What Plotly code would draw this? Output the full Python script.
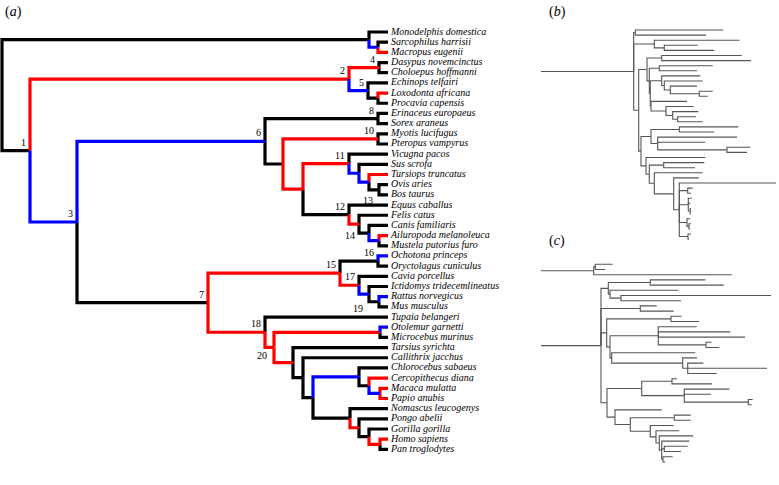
import plotly.graph_objects as go

# ---------------- data ----------------
LEAF_NAMES = [
    "Monodelphis domestica", "Sarcophilus harrisii", "Macropus eugenii",
    "Dasypus novemcinctus", "Choloepus hoffmanni", "Echinops telfairi",
    "Loxodonta africana", "Procavia capensis", "Erinaceus europaeus",
    "Sorex araneus", "Myotis lucifugus", "Pteropus vampyrus",
    "Vicugna pacos", "Sus scrofa", "Tursiops truncatus", "Ovis aries",
    "Bos taurus", "Equus caballus", "Felis catus", "Canis familiaris",
    "Ailuropoda melanoleuca", "Mustela putorius furo", "Ochotona princeps",
    "Oryctolagus cuniculus", "Cavia porcellus", "Ictidomys tridecemlineatus",
    "Rattus norvegicus", "Mus musculus", "Tupaia belangeri",
    "Otolemur garnetti", "Microcebus murinus", "Tarsius syrichta",
    "Callithrix jacchus", "Chlorocebus sabaeus", "Cercopithecus diana",
    "Macaca mulatta", "Papio anubis", "Nomascus leucogenys", "Pongo abelii",
    "Gorilla gorilla", "Homo sapiens", "Pan troglodytes",
]
TIP_DEPTH = 386

NODE_DEPTH = {
    "root": 0, "Mars": 367, "SM": 376, "n1": 28, "n2": 347, "n4": 377,
    "n5": 366, "LP": 376, "n3": 75, "n6": 263, "n8": 376, "Scr": 281,
    "n10": 376, "Fer": 301, "n11": 347, "SusN": 357, "TurN": 367, "OB": 377,
    "n12": 347, "FelN": 357, "CanN": 367, "AM": 377, "n7": 206, "n15": 338,
    "n16": 376, "n17": 357, "IctN": 367, "RM": 377, "n18": 263, "n20": 272,
    "Str": 378, "Hap": 291, "Anth": 301, "Cat": 311, "Cer": 357, "CerB": 367,
    "CerC": 378, "Hom": 348, "PonN": 357, "GorN": 367, "HP": 378,
}
# branch state: 0 = unchanged, 1 = red class, 2 = blue class
CHILDREN = {
    "root": [("Mars", 0), ("n1", 0)],
    "Mars": [("Monodelphis domestica", 0), ("SM", 2)],
    "SM": [("Sarcophilus harrisii", 0), ("Macropus eugenii", 1)],
    "n1": [("n2", 1), ("n3", 2)],
    "n2": [("n4", 1), ("n5", 2)],
    "n4": [("Dasypus novemcinctus", 0), ("Choloepus hoffmanni", 0)],
    "n5": [("Echinops telfairi", 0), ("LP", 0)],
    "LP": [("Loxodonta africana", 1), ("Procavia capensis", 0)],
    "n3": [("n6", 2), ("n7", 0)],
    "n6": [("n8", 0), ("Scr", 0)],
    "n8": [("Erinaceus europaeus", 0), ("Sorex araneus", 0)],
    "Scr": [("n10", 1), ("Fer", 1)],
    "n10": [("Myotis lucifugus", 0), ("Pteropus vampyrus", 0)],
    "Fer": [("n11", 1), ("n12", 0)],
    "n11": [("Vicugna pacos", 0), ("SusN", 2)],
    "SusN": [("Sus scrofa", 0), ("TurN", 2)],
    "TurN": [("Tursiops truncatus", 1), ("OB", 0)],
    "OB": [("Ovis aries", 0), ("Bos taurus", 0)],
    "n12": [("Equus caballus", 0), ("FelN", 1)],
    "FelN": [("Felis catus", 0), ("CanN", 0)],
    "CanN": [("Canis familiaris", 0), ("AM", 2)],
    "AM": [("Ailuropoda melanoleuca", 1), ("Mustela putorius furo", 0)],
    "n7": [("n15", 1), ("n18", 1)],
    "n15": [("n16", 0), ("n17", 1)],
    "n16": [("Ochotona princeps", 2), ("Oryctolagus cuniculus", 0)],
    "n17": [("Cavia porcellus", 0), ("IctN", 2)],
    "IctN": [("Ictidomys tridecemlineatus", 0), ("RM", 0)],
    "RM": [("Rattus norvegicus", 2), ("Mus musculus", 0)],
    "n18": [("Tupaia belangeri", 0), ("n20", 1)],
    "n20": [("Str", 1), ("Hap", 1)],
    "Str": [("Otolemur garnetti", 2), ("Microcebus murinus", 0)],
    "Hap": [("Tarsius syrichta", 0), ("Anth", 0)],
    "Anth": [("Callithrix jacchus", 0), ("Cat", 0)],
    "Cat": [("Cer", 2), ("Hom", 0)],
    "Cer": [("Chlorocebus sabaeus", 0), ("CerB", 0)],
    "CerB": [("Cercopithecus diana", 1), ("CerC", 2)],
    "CerC": [("Macaca mulatta", 1), ("Papio anubis", 1)],
    "Hom": [("Nomascus leucogenys", 0), ("PonN", 1)],
    "PonN": [("Pongo abelii", 0), ("GorN", 0)],
    "GorN": [("Gorilla gorilla", 0), ("HP", 1)],
    "HP": [("Homo sapiens", 1), ("Pan troglodytes", 0)],
}
NODE_LABELS = {"n1": "1", "n2": "2", "n3": "3", "n4": "4", "n5": "5", "n6": "6",
               "n7": "7", "n8": "8", "n10": "10", "n11": "11", "n12": "12",
               "OB": "13", "FelN": "14", "n15": "15", "n16": "16", "n17": "17",
               "n18": "18", "Tupaia belangeri": "19", "n20": "20"}

# panel (b) tree: (node depth, [children]); leaf = tip depth
TREE_B = [(92.7, [
    (94.3, [182.3, 165.0]),
    (113.3, [198.3, (123.3, [156.7, 173.3])]),
    (97.7, [
        (106.0, [(120.7, [200.7, 210.0]),
                 (108.3, [(118.3, [171.7, 156.0]),
                          (109.3, [(120.7, [159.3, (123.3, [161.7, (129.3, [156.0, (158.3, [171.7, 166.7])])])]),
                                   (110.0, [146.0, (125.0, [152.7, (131.7, [157.3, (136.7, [155.0, 161.7])])])])])])]),
        (100.0, [(110.0, [(138.3, [197.3, 173.3]),
                          (116.7, [196.0, 164.3, (186.0, [209.3, 206.0])])]),
                 (105.0, [164.3,
                          (108.3, [(122.7, [163.3, 154.0]),
                                   (113.3, [161.7, (132.7, [157.7, (138.3, [235.0,
                                        (146.7, [151.7, 150.0]),
                                        (147.3, [150.7, 149.3, (149.3, [150.0, 148.7])]),
                                        (146.0, [149.0, (148.0, [150.0, 149.0])]),
                                        (147.0, [150.0, 148.0])])])])])])]),
    ]),
])]

# panel (c): two basal lineages
TREE_C = [
    (52.7, [(54.3, [71.7, 64.3]), 190.7]),
    (60.0, [
        (67.3, [(109.3, [164.3, 182.7]), (69.0, [137.3, (80.0, [230.0, 140.0])])]),
        (99.3, [115.7, 132.7]),
        (65.7, [(130.0, [140.7, 158.3]),
                (69.0, [(117.3, [155.7, 189.3, 204.0, (165.0, [170.7, 178.3])]),
                        (70.7, [154.3, (141.7, [156.0, (146.7, [162.3, 226.0, 175.7])])])])]),
        (66.0, [(100.7, [(131.0, [136.0, 171.0]), (143.3, [188.3, 170.0, (207.3, [211.7, 210.7])])]),
                (74.0, [120.7, (89.3, [(133.3, [149.7, 149.7]),
                                       (109.3, [132.7, (115.0, [138.3, (118.3, [152.3, (120.7, [148.3, (123.3, [146.7, 140.0]), (122.0, [131.7, 124.0])])])])])])])]),
    ]),
]

# ---------------- styles ----------------
STATE_COLORS = {0: "#000000", 1: "#ff0000", 2: "#0000ff"}
MAIN_TOP, MAIN_STEP = 32.0, 10.18          # pixel of first leaf, pixel per leaf
B_TOP, B_STEP = 30.0, 5.1
C_TOP, C_STEP = 264.3, 5.2
W, H = 779, 485
SERIF = "Liberation Serif"

# ---------------- main tree layout ----------------
leaf_index = {n: i for i, n in enumerate(LEAF_NAMES)}
pos = {}


def place(node):
    if node in leaf_index:
        pos[node] = (TIP_DEPTH, leaf_index[node])
        return pos[node]
    ys = [place(c)[1] for c, _ in CHILDREN[node]]
    pos[node] = (NODE_DEPTH[node], (ys[0] + ys[-1]) / 2)
    return pos[node]


place("root")
seg = {0: ([], []), 1: ([], []), 2: ([], [])}
for node, ch in CHILDREN.items():
    x0, y0 = pos[node]
    for c, st in ch:
        x1, y1 = pos[c]
        xs, ys = seg[st]
        xs += [x0, x0, x1, None]
        ys += [y0, y1, y1, None]

fig = go.Figure()
for st in (0, 1, 2):
    xs, ys = seg[st]
    fig.add_trace(go.Scatter(x=xs, y=ys, mode="lines", hoverinfo="skip",
                             line=dict(color=STATE_COLORS[st], width=3.2),
                             xaxis="x", yaxis="y", showlegend=False))

fig.add_trace(go.Scatter(
    x=[TIP_DEPTH + 3] * len(LEAF_NAMES), y=list(range(len(LEAF_NAMES))),
    mode="text", text=LEAF_NAMES, textposition="middle right",
    textfont=dict(family=SERIF, size=10, style="italic", color="black"),
    hoverinfo="skip", showlegend=False, xaxis="x", yaxis="y"))

annotations = []
for node, lab in NODE_LABELS.items():
    x, y = pos[node]
    if node in leaf_index:          # label sitting on a terminal branch
        a = dict(x=x - 30, xanchor="center", yanchor="bottom", xshift=0, yshift=1)
    elif lab == "13":
        a = dict(x=x, xanchor="right", yanchor="top", xshift=-4, yshift=-3)
    elif lab == "14":
        a = dict(x=x, xanchor="right", yanchor="top", xshift=-2, yshift=-4)
    elif lab == "20":
        a = dict(x=x, xanchor="right", yanchor="top", xshift=-5, yshift=-1)
    else:
        a = dict(x=x, xanchor="right", yanchor="bottom", xshift=-2, yshift=1)
    a.update(y=y, text=lab, showarrow=False, xref="x", yref="y",
             font=dict(family=SERIF, size=10, color="black"))
    annotations.append(a)


# ---------------- panels b and c ----------------
def nested_segments(roots):
    xs, ys = [], []
    counter = [0]

    def rec(t):
        if isinstance(t, (int, float)):
            y = counter[0]
            counter[0] += 1
            return t, y
        d, ch = t
        res = [rec(c) for c in ch]
        y = (res[0][1] + res[-1][1]) / 2
        for cx, cy in res:
            xs.extend([d, d, cx, None])
            ys.extend([y, cy, cy, None])
        return d, y

    for r in roots:                 # each basal lineage gets a stem from depth 0
        d, y = rec(r)
        xs.extend([0, d, None])
        ys.extend([y, y, None])
    return xs, ys


for tree, xa, ya in ((TREE_B, "x2", "y2"), (TREE_C, "x3", "y3")):
    xs, ys = nested_segments(tree)
    fig.add_trace(go.Scatter(x=xs, y=ys, mode="lines", hoverinfo="skip",
                             line=dict(color="#555555", width=1.1),
                             xaxis=xa, yaxis=ya, showlegend=False))


def yrange(top, step):
    return [(H - top) / step, -top / step]


for txt, px, py in (("(<i>a</i>)", 3, 12), ("(<i>b</i>)", 547, 12), ("(<i>c</i>)", 547, 241)):
    annotations.append(dict(text=txt, x=px / W, y=1 - py / H, xref="paper", yref="paper",
                            xanchor="left", yanchor="middle", showarrow=False,
                            font=dict(family=SERIF, size=14, color="black")))

ax_common = dict(visible=False, showgrid=False, zeroline=False, domain=[0, 1],
                 fixedrange=True)
fig.update_layout(
    width=W, height=H, margin=dict(l=0, r=0, t=0, b=0),
    paper_bgcolor="white", plot_bgcolor="white",
    xaxis=dict(range=[-2, W - 2], **ax_common),
    yaxis=dict(range=yrange(MAIN_TOP, MAIN_STEP), **ax_common),
    xaxis2=dict(range=[-541, W - 541], overlaying="x", anchor="y2", **ax_common),
    yaxis2=dict(range=yrange(B_TOP, B_STEP), overlaying="y", anchor="x2", **ax_common),
    xaxis3=dict(range=[-541, W - 541], overlaying="x", anchor="y3", **ax_common),
    yaxis3=dict(range=yrange(C_TOP, C_STEP), overlaying="y", anchor="x3", **ax_common),
    annotations=annotations,
)
fig.write_html("out.html", config={"displayModeBar": False},
               post_script="document.body.style.margin='0px';")
